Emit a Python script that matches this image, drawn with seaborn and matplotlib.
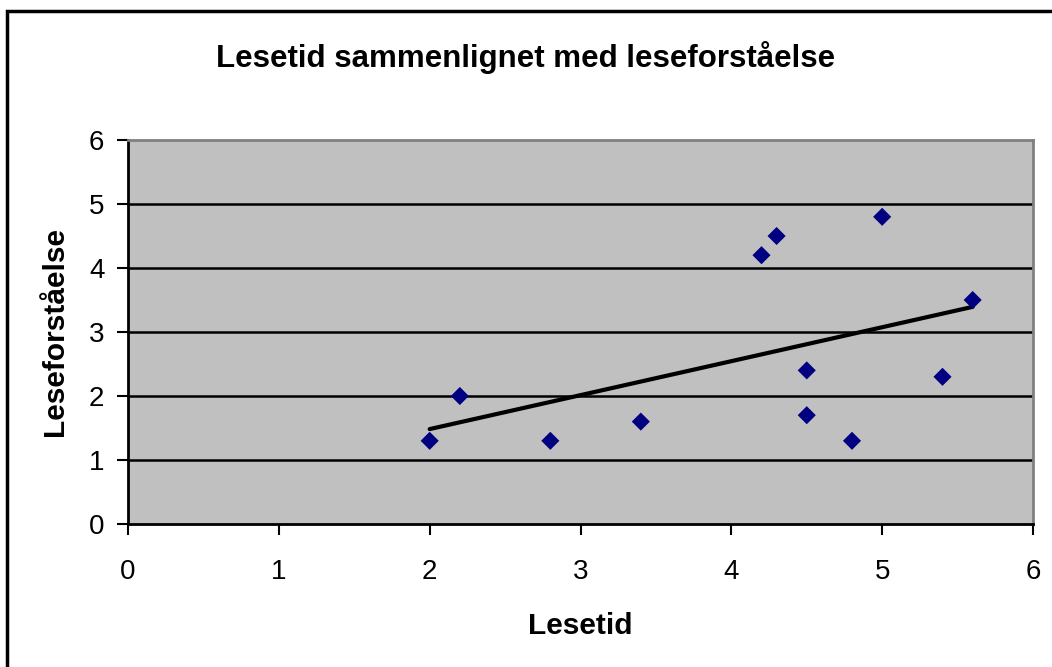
import numpy as np
import pandas as pd
import seaborn as sns
import matplotlib.pyplot as plt
from matplotlib.patches import Rectangle

# values
lesetid = [2.0, 2.2, 2.8, 3.4, 4.2, 4.3, 4.5, 4.5, 4.8, 5.0, 5.4, 5.6]
forstaelse = [1.3, 2.0, 1.3, 1.6, 4.2, 4.5, 2.4, 1.7, 1.3, 4.8, 2.3, 3.5]
ticks = [0, 1, 2, 3, 4, 5, 6]

df = pd.DataFrame({"Lesetid": lesetid, "Leseforståelse": forstaelse})

sns.set_style("white")
plt.rcParams["font.family"] = ["Liberation Sans", "DejaVu Sans"]
plt.rcParams["text.color"] = "black"
plt.rcParams["axes.labelcolor"] = "black"
plt.rcParams["xtick.color"] = "black"
plt.rcParams["ytick.color"] = "black"

fig = plt.figure(figsize=(10.52, 6.67), dpi=100)
ax = fig.add_axes([128 / 1052, 143 / 667, 905 / 1052, 384 / 667])
ax.set_facecolor("#c0c0c0")

for t in ticks[1:-1]:
    ax.axhline(t, color="black", lw=1.8, zorder=1)

# linear trendline over the data range
k, m = np.polyfit(lesetid, forstaelse, 1)
xs = np.array([min(lesetid), max(lesetid)])
sns.lineplot(x=xs, y=k * xs + m, color="black", lw=3, ax=ax, zorder=2)

sns.scatterplot(data=df, x="Lesetid", y="Leseforståelse", marker="D", s=85,
                color="#000080", edgecolor="none", ax=ax, zorder=3)

ax.set_xlim(0, 6)
ax.set_ylim(0, 6)
ax.set_xticks(ticks)
ax.set_yticks(ticks)
ax.tick_params(direction="out", length=8, width=1.5, color="black",
               labelsize=20, bottom=True, left=True)
ax.tick_params(axis="x", pad=17)
ax.tick_params(axis="y", pad=9)
for side in ["left", "bottom"]:
    ax.spines[side].set_color("black")
    ax.spines[side].set_linewidth(2)
for side in ["top", "right"]:
    ax.spines[side].set_color("#808080")
    ax.spines[side].set_linewidth(2)

ax.set_xlabel("Lesetid", fontsize=21.5, fontweight="bold", labelpad=20)
ax.set_ylabel("Leseforståelse", fontsize=21.5, fontweight="bold", labelpad=14)
fig.text(0.5, 1 - 57 / 667, "Lesetid sammenlignet med leseforståelse",
         ha="center", va="center", fontsize=22.5, fontweight="bold")

fig.patches.append(Rectangle((7 / 1052, -0.1), 1.2, 1 - 11 / 667 + 0.1,
                             transform=fig.transFigure, fill=False,
                             edgecolor="black", lw=2.5))

fig.savefig("out.png", dpi=100)
